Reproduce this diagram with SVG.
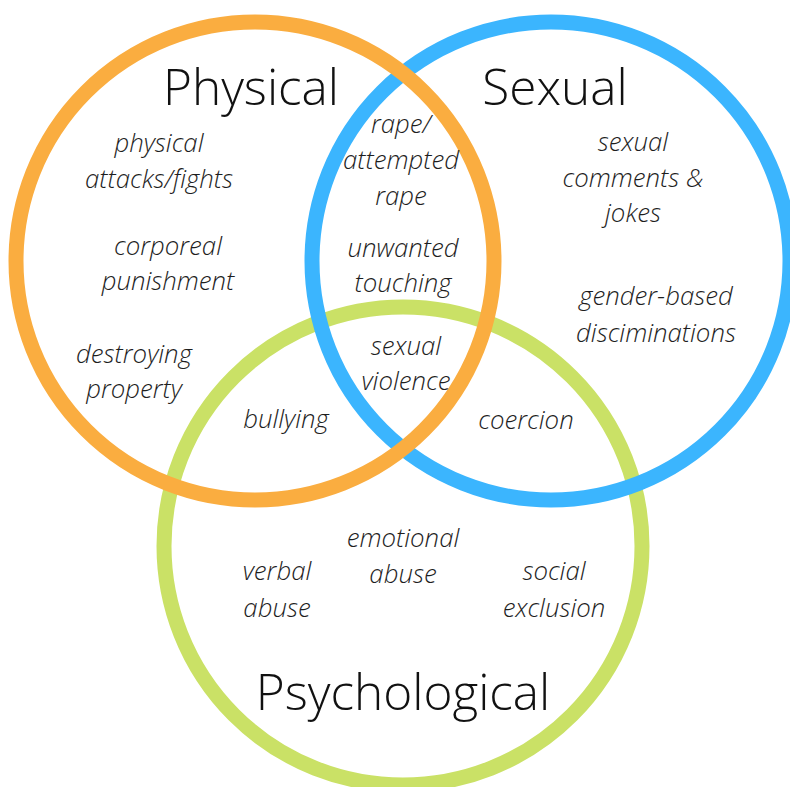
<svg xmlns="http://www.w3.org/2000/svg" width="790" height="787" viewBox="0 0 790 787">
<style>
.ring{fill:none;stroke-width:15}
.title{font-family:"Open Sans","Liberation Sans",sans-serif;font-weight:300;font-size:49.5px;fill:#111;text-anchor:middle}
.lbl{font-family:"Open Sans","Liberation Sans",sans-serif;font-weight:300;font-style:italic;font-size:25.8px;fill:#1e1e1e;text-anchor:middle}
</style>
<rect width="790" height="787" fill="#fff"/>
<g id="psychological-circle"><circle class="ring" cx="403" cy="546" r="239" stroke="#CAE166"/></g>
<g id="sexual-circle"><circle class="ring" cx="551" cy="261" r="239" stroke="#3BB5FE"/></g>
<g id="physical-circle"><circle class="ring" cx="255" cy="261" r="239" stroke="#FAAD40"/></g>
<g id="titles">
<text class="title" x="251" y="105">Physical</text>
<text class="title" x="555" y="105">Sexual</text>
<text class="title" x="403" y="710">Psychological</text>
</g>
<g id="labels">
<text class="lbl" x="159" y="152">physical</text>
<text class="lbl" x="159" y="188">attacks/fights</text>
<text class="lbl" x="168" y="255">corporeal</text>
<text class="lbl" x="168" y="290">punishment</text>
<text class="lbl" x="134" y="363">destroying</text>
<text class="lbl" x="134" y="398">property</text>
<text class="lbl" x="286" y="428">bullying</text>
<text class="lbl" x="401" y="133">rape/</text>
<text class="lbl" x="401" y="169">attempted</text>
<text class="lbl" x="401" y="205">rape</text>
<text class="lbl" x="403" y="257">unwanted</text>
<text class="lbl" x="403" y="292">touching</text>
<text class="lbl" x="406" y="355">sexual</text>
<text class="lbl" x="406" y="390">violence</text>
<text class="lbl" x="526" y="429">coercion</text>
<text class="lbl" x="633" y="151">sexual</text>
<text class="lbl" x="633" y="187">comments &amp;</text>
<text class="lbl" x="633" y="222">jokes</text>
<text class="lbl" x="656" y="305">gender-based</text>
<text class="lbl" x="656" y="342">disciminations</text>
<text class="lbl" x="403" y="547">emotional</text>
<text class="lbl" x="403" y="583">abuse</text>
<text class="lbl" x="277" y="580">verbal</text>
<text class="lbl" x="277" y="617">abuse</text>
<text class="lbl" x="554" y="580">social</text>
<text class="lbl" x="554" y="617">exclusion</text>
</g>
</svg>
